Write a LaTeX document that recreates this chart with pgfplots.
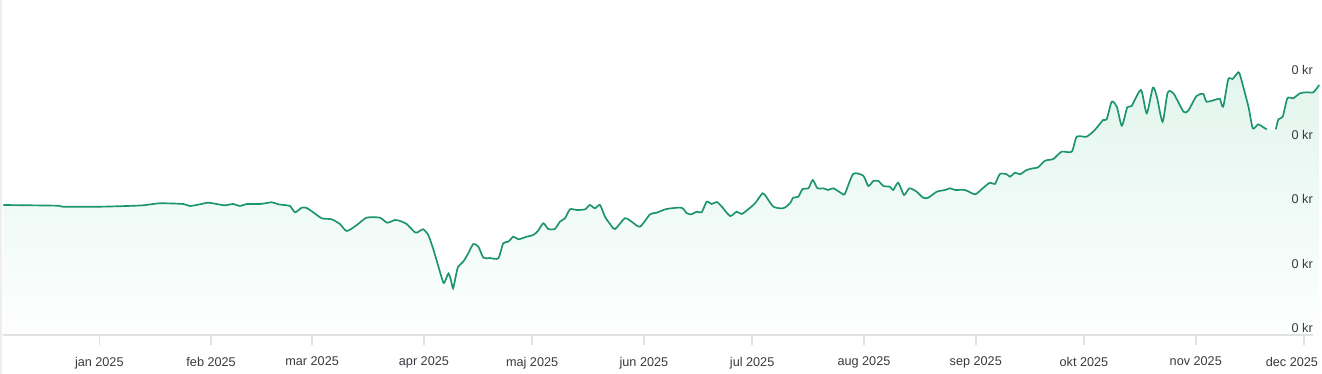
\documentclass[border=0pt]{standalone}
\usepackage{fontspec}
\setmainfont{Liberation Sans}
\usepackage{pgfplots}
\usepackage{pgfplotstable}
\pgfplotsset{compat=1.18}
\definecolor{ln}{RGB}{28,148,108}
\definecolor{fillTop}{RGB}{226,245,237}
\definecolor{fillBot}{RGB}{253,255,254}
\definecolor{axgray}{RGB}{226,226,226}
\definecolor{txt}{RGB}{55,58,62}

\pgfplotstableread{
x y
-26.6 130
-11.8 129.3
-10.0 128.3
0.2 128.3
7.6 129
12.2 129.7
16.8 131.7
23.3 131
25.1 129
27.9 130.7
30.2 132.3
32.5 131
34.8 129.7
37.1 131
39.0 129
40.9 131
44.6 131
47.8 132.7
49.6 130.7
52.0 129.7
52.9 129
54.3 122.7
56.1 127.3
57.5 127
59.3 122.7
61.7 116.7
64.4 115.7
66.7 111
68.6 104
71.4 110
74.1 117.3
77.8 117.3
79.8 112.3
82.0 115
83.4 114
85.2 111
87.5 102.7
88.4 103
89.8 105.7
91.2 100
92.5 87
93.9 70
95.4 52.3
96.1 56
96.8 61.5
97.5 55
98.1 46.7
98.9 60
99.5 68.3
100.9 73.3
102.3 81.7
103.7 91
105.1 88.3
106.5 77.3
108.3 77
110.6 76.7
112.0 91.7
113.4 93.3
114.8 98.3
116.2 95.7
118.5 98.3
120.3 100
121.6 104
123.1 111.7
124.5 106
126.3 106
127.7 113.3
129.1 116.7
130.5 125.7
132.4 125
134.7 125.7
136.0 130
137.4 126.7
138.8 130
140.2 118.3
141.6 111
143.0 106
145.7 116.7
147.6 113.3
149.9 108.3
152.7 120.7
154.5 122.3
157.3 126
161.4 127.3
162.9 121.7
164.2 120.7
165.6 123.3
167.0 122.7
168.4 133.3
169.8 131
171.2 133
172.6 128.3
174.9 119
176.7 123.3
178.1 121
179.9 125.7
181.8 131.7
183.9 141.7
185.0 137.7
186.9 128.3
189.6 126.7
191.5 131.7
192.4 137.3
193.8 138.3
195.0 146
196.6 146.7
197.8 155
199.1 146.7
200.7 146.7
202.1 145
203.5 146.7
205.8 141.7
206.7 141
209.0 161
211.8 159.3
213.2 149
214.6 154
216.0 154
217.4 149
219.2 148.3
220.1 145
221.5 152.3
223.1 140
224.6 146.7
226.6 143.3
228.4 137.3
229.8 137.3
232.2 143.3
234.5 145
235.9 146.7
237.3 145
240.0 145
242.8 140.7
244.6 145.7
246.9 152.3
248.3 151
249.7 161
251.6 160.7
252.5 158.3
253.9 162.3
255.3 160.7
257.1 165
258.9 166.7
260.3 167.7
262.2 174.3
264.5 176
266.8 183.3
269.6 183.3
271.0 198.3
273.7 198.3
276.0 205
278.3 215
279.3 215.7
280.7 233.3
282.1 228.3
283.5 209.3
285.0 227.7
286.2 229
288.8 245
290.4 221.7
292.1 247.3
293.2 238.3
294.8 213.3
296.2 242.3
297.8 241.7
300.6 223.3
301.9 224.3
304.2 239
306.1 241
307.0 233.3
309.8 235.7
310.7 236
311.6 228.3
313.0 255.7
314.2 256
315.8 262.7
316.4 258.3
318.6 228.3
319.8 206.7
321.3 210.7
322.7 207.7
323.7 205.7
326.2 205.7
326.9 215.7
328.1 218.3
329.4 236.7
331.0 236.7
332.9 241.7
334.7 242.7
336.6 242.7
338.2 250
}\data

\begin{document}
\begin{tikzpicture}
\useasboundingbox (0,-29.25pt) rectangle (991.5pt,251.25pt);
\fill[axgray!60] (0,-29.25pt) rectangle (1.8pt,251.25pt);
\begin{axis}[
  at={(2.25pt,0)}, anchor=south west,
  scale only axis, width=982.5pt, height=251.25pt,
  xmin=-26.7, xmax=336.5, ymin=0, ymax=335,
  clip=false, axis on top,
  separate axis lines,
  axis x line*=bottom, axis y line*=right,
  x axis line style={-, draw=axgray, line width=1.1pt},
  y axis line style={draw=none},
  tick align=inside,
  major tick length=7.5pt,
  xtick style={draw=axgray, line width=1.1pt, yshift=-7.5pt},
  ytick style={draw=none},
  xtick={0,31,59,90,120,151,181,212,243,273,304,334},
  xticklabels={jan 2025,feb 2025,mar 2025,apr 2025,maj 2025,jun 2025,jul 2025,aug 2025,sep 2025,okt 2025,nov 2025,{\hspace{21pt}\makebox[0pt][r]{dec 2025}}},
  xticklabel style={font=\fontsize{9.5}{11}\selectfont, text=txt, yshift=-12.9pt},
  ytick={0,64.5,129,193.5,258},
  yticklabels={0 kr,0 kr,0 kr,0 kr,0 kr},
  yticklabel style={font=\fontsize{9.5}{11}\selectfont, text=txt, anchor=south east, inner sep=0pt, yshift=1.5pt},
]
\addplot[draw=none, top color=fillTop, bottom color=fillBot, smooth, tension=0.4] table {\data} \closedcycle;
\addplot[ln, line width=1.25pt, smooth, tension=0.4, restrict x to domain=-30:324.5] table {\data};
\addplot[ln, line width=1.25pt, smooth, tension=0.4, restrict x to domain=325.5:340] table {\data};
\end{axis}
\end{tikzpicture}
\end{document}
